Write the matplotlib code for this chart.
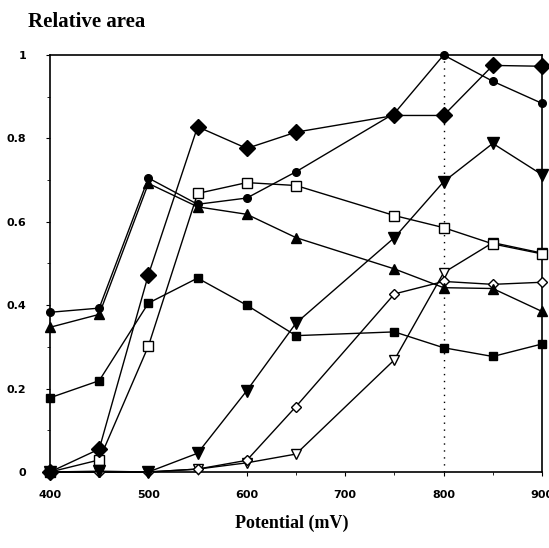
import matplotlib
matplotlib.use("Agg")
import matplotlib.pyplot as plt
from matplotlib.ticker import MultipleLocator

# potential (mV)
potential = [400, 450, 500, 550, 600, 650, 750, 800, 850, 900]

# relative area, one list per series
filled_circle = [0.383, 0.393, 0.705, 0.642, 0.657, 0.72, 0.86, 1.0, 0.937, 0.884]
filled_diamond = [0.0, 0.055, 0.473, 0.828, 0.776, 0.815, 0.855, 0.855, 0.975, 0.973]
open_square = [0.0, 0.029, 0.302, 0.668, 0.694, 0.687, 0.615, 0.586, 0.547, 0.523]
filled_triangle = [0.347, 0.378, 0.692, 0.636, 0.618, 0.562, 0.487, 0.442, 0.44, 0.385]
filled_square = [0.178, 0.219, 0.405, 0.465, 0.40, 0.327, 0.336, 0.298, 0.277, 0.307]
filled_down = [0.0, 0.002, 0.0, 0.045, 0.195, 0.357, 0.562, 0.696, 0.788, 0.713]
open_diamond = [0.0, 0.0, 0.0, 0.007, 0.028, 0.157, 0.427, 0.457, 0.45, 0.455]
open_down = [0.0, 0.0, 0.0, 0.007, 0.022, 0.043, 0.269, 0.478, 0.55, 0.525]

yticks = [0, 0.2, 0.4, 0.6, 0.8, 1]
ytick_labels = ["0", "0.2", "0.4", "0.6", "0.8", "1"]
xticks = [400, 500, 600, 700, 800, 900]

fig = plt.figure(figsize=(5.49, 5.48), dpi=100)
ax = fig.add_axes([50/549, 1-472/548, 492/549, 417/548])

ax.axvline(800, color="black", linestyle=(0, (1, 4)), linewidth=1.0, zorder=1)

common = dict(color="black", linewidth=1.0, clip_on=False, zorder=3)
ax.plot(potential, open_down, marker="v", markersize=7, markerfacecolor="white",
        markeredgecolor="black", **common)
ax.plot(potential, open_diamond, marker="D", markersize=5.5, markerfacecolor="white",
        markeredgecolor="black", **common)
ax.plot(potential, filled_square, marker="s", markersize=6, markerfacecolor="black", **common)
ax.plot(potential, filled_triangle, marker="^", markersize=7, markerfacecolor="black", **common)
ax.plot(potential, open_square, marker="s", markersize=6.5, markerfacecolor="white",
        markeredgecolor="black", **common)
ax.plot(potential, filled_down, marker="v", markersize=8, markerfacecolor="black", **common)
ax.plot(potential, filled_circle, marker="o", markersize=5.5, markerfacecolor="black", **common)
ax.plot(potential, filled_diamond, marker="D", markersize=8.5, markerfacecolor="black", **common)

ax.set_xlim(400, 900)
ax.set_ylim(0, 1.0)
ax.set_xticks(xticks)
ax.set_yticks(yticks)
ax.set_yticklabels(ytick_labels)
ax.yaxis.set_minor_locator(MultipleLocator(0.1))
ax.xaxis.set_minor_locator(MultipleLocator(50))

for sp in ax.spines.values():
    sp.set_linewidth(1.2)

ax.tick_params(axis="both", which="major", direction="out", length=3, width=0.8,
               labelsize=8)
ax.tick_params(axis="x", which="major", pad=10)
ax.tick_params(axis="y", which="major", pad=14)
ax.tick_params(axis="both", which="minor", direction="out", length=2, width=0.6)
for lab in ax.get_xticklabels() + ax.get_yticklabels():
    lab.set_fontweight("bold")

fig.text(28/549, 1-22/548, "Relative area", fontsize=15, fontweight="bold",
         family="Liberation Serif", ha="left", va="center")
fig.text(292/549, 1-523/548, "Potential (mV)", fontsize=13, fontweight="bold",
         family="Liberation Serif", ha="center", va="center")

fig.savefig("out.png", dpi=100)
